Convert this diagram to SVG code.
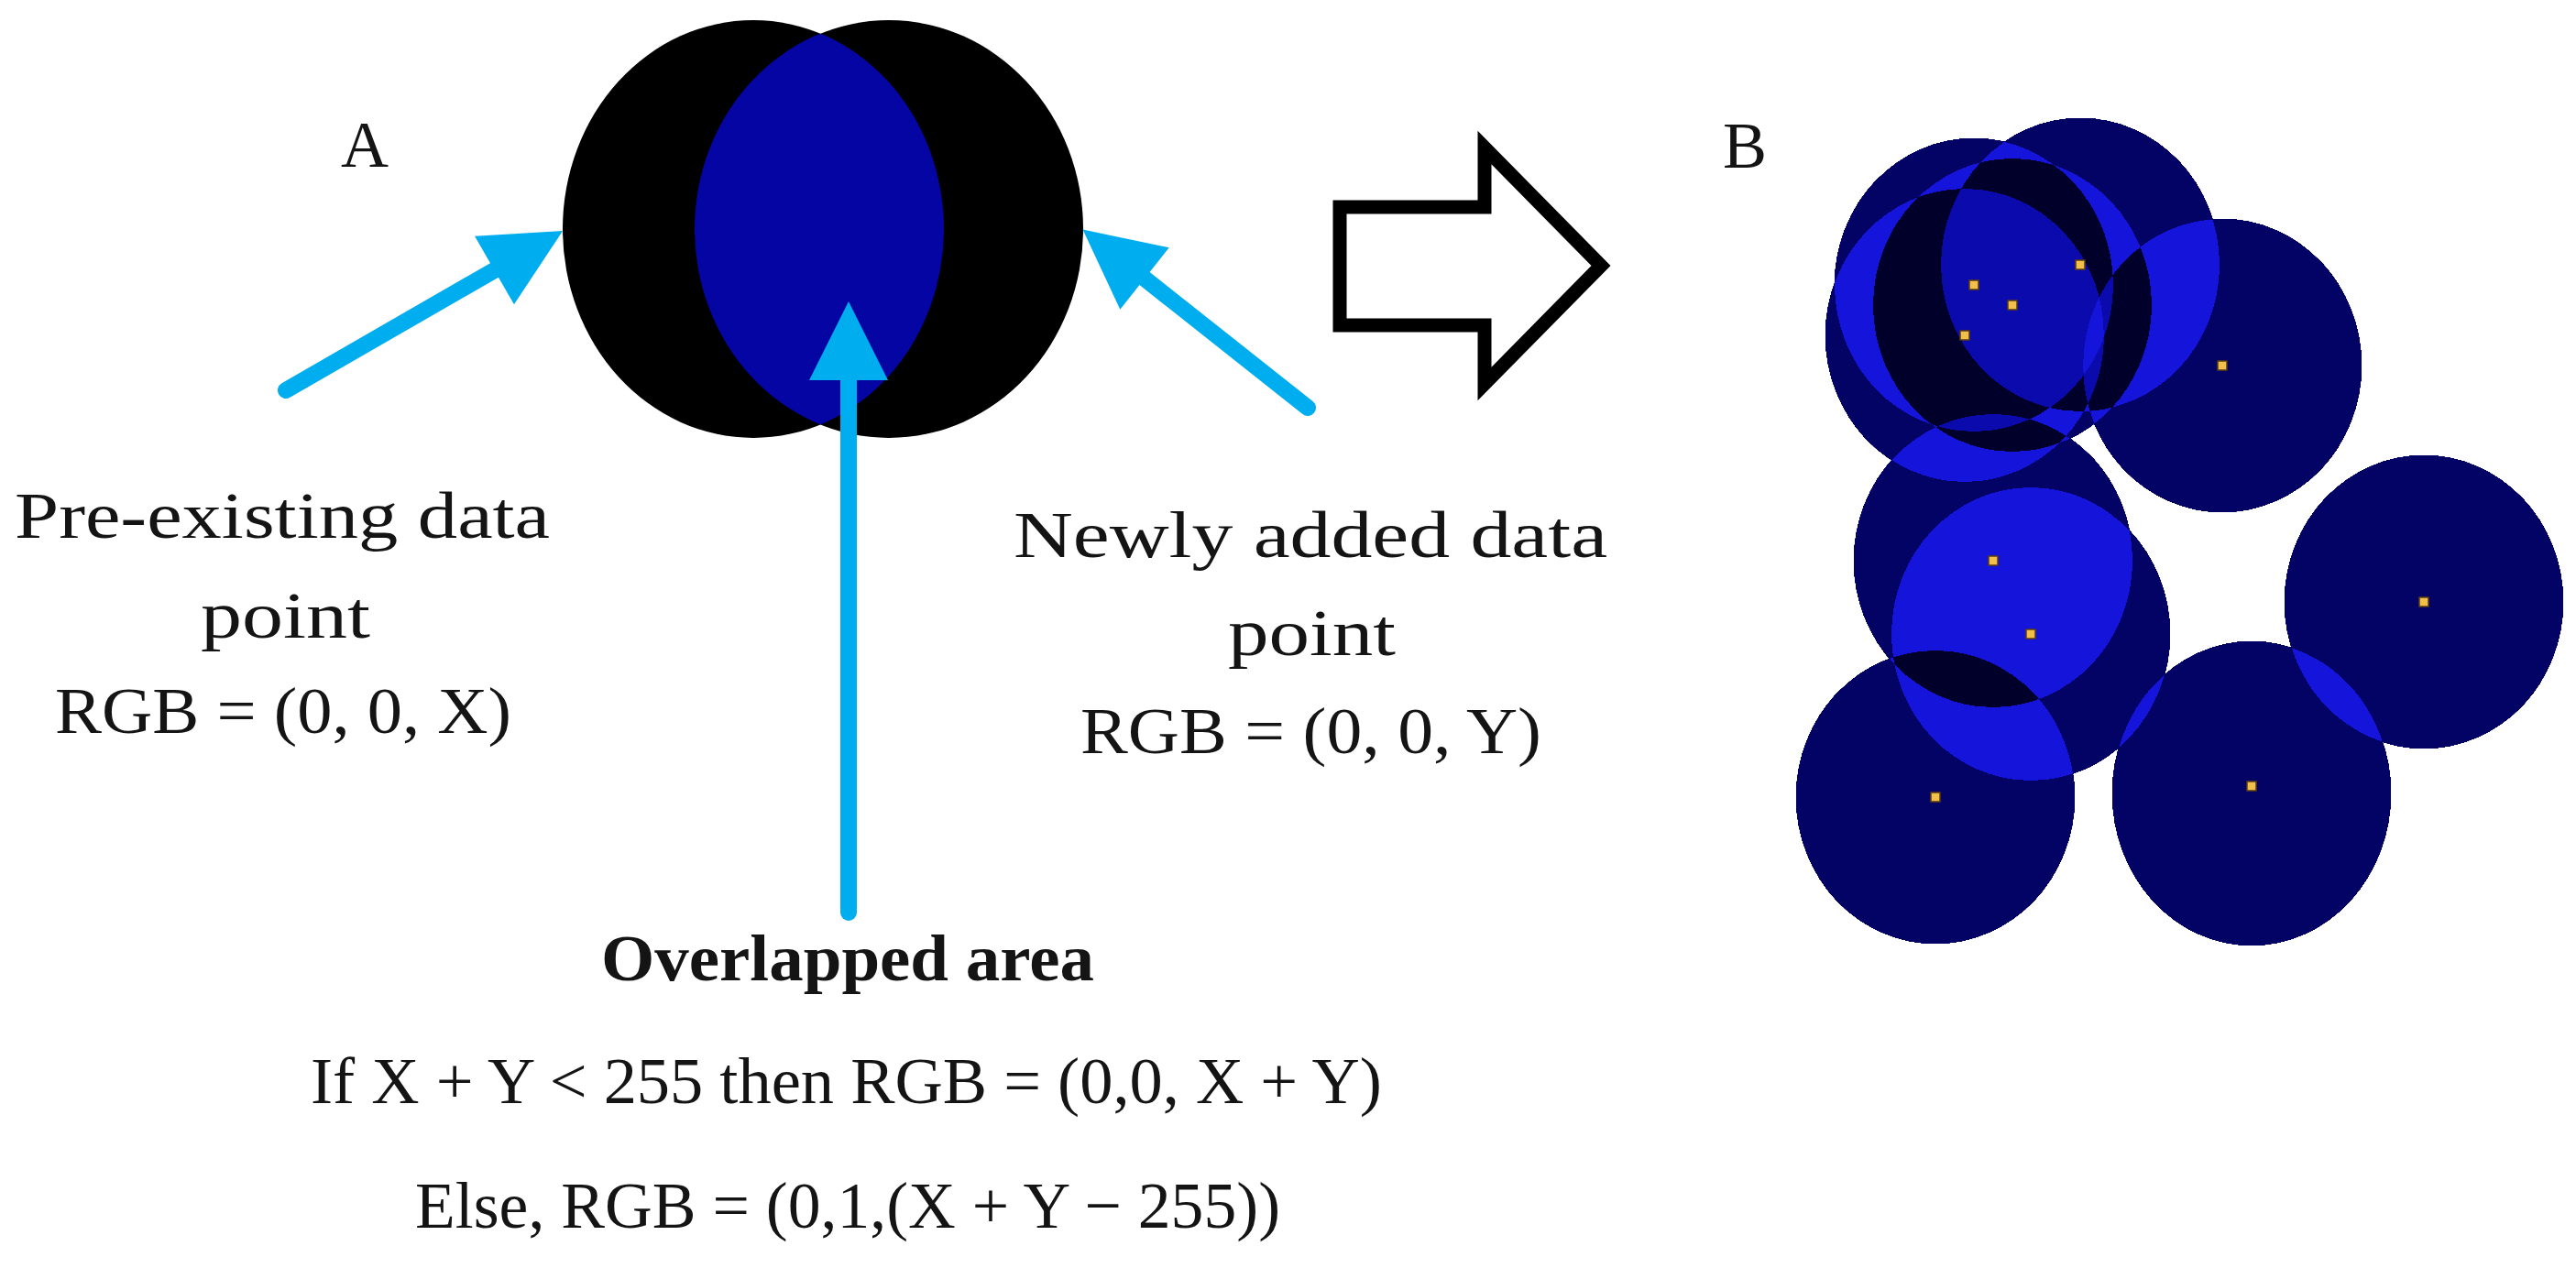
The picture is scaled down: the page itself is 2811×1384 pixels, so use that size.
<svg xmlns="http://www.w3.org/2000/svg" width="2811" height="1384" viewBox="0 0 2811 1384">
  <style>
    .t { font-family: "Liberation Serif", "Times New Roman", serif; font-size: 72px; fill: #141414; }
    .b { font-weight: bold; }
    .ptr { stroke: #00adef; stroke-width: 18; stroke-linecap: round; fill: none; }
    .disc { fill: #000; fill-opacity: 0.2; }
    .dot { fill: #f2c04a; stroke: #5a3c10; stroke-width: 1.5; }
  </style>
  <defs>
    <marker id="head" markerUnits="userSpaceOnUse" markerWidth="88" markerHeight="88" refX="0" refY="43" orient="auto" overflow="visible">
      <path d="M0,0 L86,43 L0,86 Z" fill="#00adef"/>
    </marker>
    <clipPath id="leftClip">
      <ellipse cx="822" cy="250" rx="208" ry="228"/>
    </clipPath>
    <filter id="stack" filterUnits="userSpaceOnUse" x="1950" y="115" width="861" height="940" color-interpolation-filters="sRGB">
      <feColorMatrix in="SourceGraphic" type="matrix" values="0 0 0 1 0  0 0 0 1 0  0 0 0 1 0  0 0 0 50 0"/>
      <feComponentTransfer>
        <feFuncR type="discrete" tableValues="0.015 0.015 0.015 0.015 0.015 0.015 0.015 0.015 0.015 0.015 0.015 0.015 0.015 0.015 0.08 0.08 0.08 0.08 0.08 0.08 0.08 0 0 0 0 0 0 0.04 0.04 0.04 0.04 0.04 0.08 0.08 0.08 0.08 0 0 0 0 0 0 0 0 0 0 0 0 0 0"/>
        <feFuncG type="discrete" tableValues="0.015 0.015 0.015 0.015 0.015 0.015 0.015 0.015 0.015 0.015 0.015 0.015 0.015 0.015 0.08 0.08 0.08 0.08 0.08 0.08 0.08 0 0 0 0 0 0 0.04 0.04 0.04 0.04 0.04 0.08 0.08 0.08 0.08 0 0 0 0 0 0 0 0 0 0 0 0 0 0"/>
        <feFuncB type="discrete" tableValues="0.40 0.40 0.40 0.40 0.40 0.40 0.40 0.40 0.40 0.40 0.40 0.40 0.40 0.40 0.86 0.86 0.86 0.86 0.86 0.86 0.86 0.17 0.17 0.17 0.17 0.17 0.17 0.68 0.68 0.68 0.68 0.68 0.86 0.86 0.86 0.86 0.17 0.17 0.17 0.17 0.17 0.17 0.17 0.17 0.17 0.17 0.17 0.17 0.17 0.17"/>
      </feComponentTransfer>
    </filter>
  </defs>

  <rect x="0" y="0" width="2811" height="1384" fill="#fff"/>

  <!-- Panel A: overlapping data points -->
  <g id="pre-existing-point">
    <ellipse cx="822" cy="250" rx="208" ry="228" fill="#000"/>
  </g>
  <g id="newly-added-point">
    <ellipse cx="970" cy="250" rx="212" ry="228" fill="#000"/>
  </g>
  <g id="overlapped-area">
    <ellipse cx="970" cy="250" rx="212" ry="228" fill="#0505a3" clip-path="url(#leftClip)"/>
  </g>

  <!-- connectors -->
  <g id="connectors">
    <line class="ptr" x1="312" y1="426" x2="539.5" y2="295" marker-end="url(#head)"/>
    <line class="ptr" x1="926" y1="996" x2="926" y2="415" marker-end="url(#head)"/>
    <line class="ptr" x1="1427" y1="445" x2="1249" y2="304" marker-end="url(#head)"/>
  </g>

  <g id="transition-arrow">
    <polygon points="1462,226 1620,226 1620,161 1747,290 1620,419 1620,355 1462,355" fill="#fff" stroke="#000" stroke-width="15" stroke-linejoin="miter"/>
  </g>

  <!-- labels -->
  <g id="label-A"><text class="t" x="372" y="182">A</text></g>
  <g id="label-B"><text class="t" x="1880" y="183">B</text></g>

  <g id="pre-existing-label">
    <text class="t" x="16" y="587" textLength="584" lengthAdjust="spacingAndGlyphs">Pre-existing data</text>
    <text class="t" x="219" y="696" textLength="185" lengthAdjust="spacingAndGlyphs">point</text>
    <text class="t" x="60" y="800" textLength="498" lengthAdjust="spacingAndGlyphs">RGB = (0, 0, X)</text>
  </g>
  <g id="newly-added-label">
    <text class="t" x="1106" y="608" textLength="648" lengthAdjust="spacingAndGlyphs">Newly added data</text>
    <text class="t" x="1340" y="715" textLength="183" lengthAdjust="spacingAndGlyphs">point</text>
    <text class="t" x="1179" y="822" textLength="503" lengthAdjust="spacingAndGlyphs">RGB = (0, 0, Y)</text>
  </g>
  <g id="overlapped-label">
    <text class="t b" x="656" y="1070" textLength="538" lengthAdjust="spacingAndGlyphs">Overlapped area</text>
    <text class="t" x="339" y="1204" textLength="1169" lengthAdjust="spacingAndGlyphs">If X + Y &lt; 255 then RGB = (0,0, X + Y)</text>
    <text class="t" x="453" y="1340" textLength="944" lengthAdjust="spacingAndGlyphs">Else, RGB = (0,1,(X + Y − 255))</text>
  </g>

  <!-- Panel B: accumulated data points -->
  <g id="panel-B">
    <g filter="url(#stack)">
      <ellipse class="disc" cx="2154" cy="311" rx="152" ry="160"/>
      <ellipse class="disc" cx="2196" cy="333" rx="152" ry="160"/>
      <ellipse class="disc" cx="2144" cy="366" rx="152" ry="160"/>
      <ellipse class="disc" cx="2270" cy="289" rx="152" ry="160"/>
      <ellipse class="disc" cx="2425" cy="399" rx="152" ry="160"/>
      <ellipse class="disc" cx="2175" cy="612" rx="152" ry="160"/>
      <ellipse class="disc" cx="2216" cy="692" rx="152" ry="160"/>
      <ellipse class="disc" cx="2112" cy="870" rx="152" ry="160"/>
      <ellipse class="disc" cx="2457" cy="866" rx="152" ry="166"/>
      <ellipse class="disc" cx="2645" cy="657" rx="152" ry="160"/>
    </g>
    <rect class="dot" x="2149" y="306" width="10" height="10"/>
    <rect class="dot" x="2191" y="328" width="10" height="10"/>
    <rect class="dot" x="2139" y="361" width="10" height="10"/>
    <rect class="dot" x="2265" y="284" width="10" height="10"/>
    <rect class="dot" x="2420" y="394" width="10" height="10"/>
    <rect class="dot" x="2170" y="607" width="10" height="10"/>
    <rect class="dot" x="2211" y="687" width="10" height="10"/>
    <rect class="dot" x="2107" y="865" width="10" height="10"/>
    <rect class="dot" x="2452" y="853" width="10" height="10"/>
    <rect class="dot" x="2640" y="652" width="10" height="10"/>
  </g>
</svg>
